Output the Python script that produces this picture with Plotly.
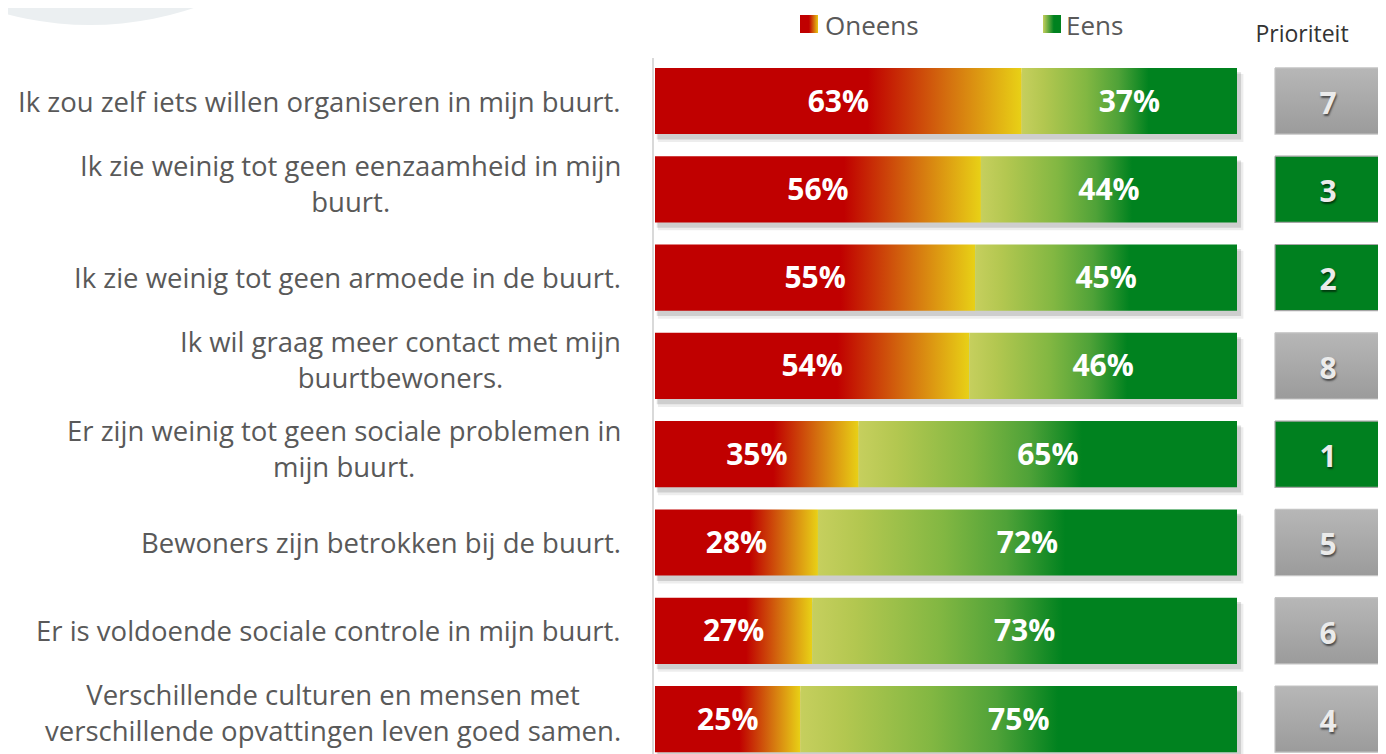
import plotly.graph_objects as go

# data
stellingen = [
    "Ik zou zelf iets willen organiseren in mijn buurt.",
    "Ik zie weinig tot geen eenzaamheid in mijn<br>buurt.",
    "Ik zie weinig tot geen armoede in de buurt.",
    "Ik wil graag meer contact met mijn<br>buurtbewoners.",
    "Er zijn weinig tot geen sociale problemen in<br>mijn buurt.",
    "Bewoners zijn betrokken bij de buurt.",
    "Er is voldoende sociale controle in mijn buurt.",
    "Verschillende culturen en mensen met<br>verschillende opvattingen leven goed samen.",
]
oneens = [63, 56, 55, 54, 35, 28, 27, 25]
eens = [37, 44, 45, 46, 65, 72, 73, 75]
prioriteit = [7, 3, 2, 8, 1, 5, 6, 4]

# pixel helpers (screen pixels; the page body adds an 8px offset)
OFF = 8
X0, XS = 655, 5.82   # px of 0 %, px per %
Y0, YS = 101, 88.3   # px of first row, px per row


def dx(p):
    return (p - X0) / XS


def dy(p):
    return (p - Y0) / YS


BAR_H = 0.375
GRAY = "#595959"
RED_SCALE = [[0, "#c00000"], [0.58, "#c00000"], [0.8, "#d4700f"], [1, "#e8d116"]]
GREEN_SCALE = [[0, "#c6cf5e"], [0.1, "#b3c750"], [0.3, "#82b742"], [0.45, "#4fa238"],
               [0.59, "#00821f"], [1, "#00821f"]]


def rect(fig, x0, x1, y0, y1, **kw):
    fig.add_trace(go.Scatter(
        x=[x0, x1, x1, x0, x0], y=[y0, y0, y1, y1, y0],
        mode="lines", line=dict(width=0), fill="toself",
        hoverinfo="skip", showlegend=False, **kw))


fig = go.Figure()

# bars: shadow, oneens, eens
for i, (o, e) in enumerate(zip(oneens, eens)):
    total = o + e
    rect(fig, 0.5, total + 1.1, i - BAR_H + 0.07, i + BAR_H + 0.09, fillcolor="rgba(0,0,0,0.07)")
    rect(fig, 0.3, total + 0.7, i - BAR_H + 0.05, i + BAR_H + 0.06, fillcolor="rgba(0,0,0,0.13)")
    rect(fig, 0, o, i - BAR_H, i + BAR_H,
         fillgradient=dict(type="horizontal", colorscale=RED_SCALE, start=0, stop=o))
    rect(fig, o, total, i - BAR_H, i + BAR_H,
         fillgradient=dict(type="horizontal", colorscale=GREEN_SCALE, start=o, stop=total))

# percentage labels
fig.add_trace(go.Scatter(
    x=[o / 2 for o in oneens] + [o + e / 2 for o, e in zip(oneens, eens)],
    y=[i + 0.035 for i in range(len(oneens))] * 2,
    text=[f"{v}%" for v in oneens + eens],
    mode="text", textposition="middle center",
    textfont=dict(family="Open Sans", size=30, color="white", weight="bold"),
    hoverinfo="skip", showlegend=False))

# priority boxes
bx0, bx1, bxe = dx(1275), dx(1378), dx(1392)
for i, p in enumerate(prioriteit):
    top, bot = i - BAR_H, i + BAR_H
    xs = [bx0, bx1, bxe, bxe, bx0, bx0]
    ys = [top, top, top + 0.12, bot, bot, top]
    if p <= 3:
        style = dict(fillcolor="#00801f", line=dict(width=1.2, color="#a6a6a6"))
    else:
        style = dict(fillgradient=dict(type="vertical", colorscale=[[0, "#b7b7b7"], [1, "#9b9b9b"]],
                                       start=top, stop=bot),
                     line=dict(width=1.2, color="#c4c4c4"))
    fig.add_trace(go.Scatter(x=xs, y=ys, mode="lines", fill="toself",
                             hoverinfo="skip", showlegend=False, **style))

fig.add_trace(go.Scatter(
    x=[dx(1328)] * len(prioriteit), y=[i + 0.06 for i in range(len(prioriteit))],
    text=[str(p) for p in prioriteit], mode="text",
    textfont=dict(family="Open Sans", size=30, color="#ebebeb", weight="bold",
                  shadow="1px 2px 2px rgba(0,0,0,0.55)"),
    hoverinfo="skip", showlegend=False))

# legend swatches and texts
rect(fig, dx(800), dx(818), dy(15), dy(33),
     fillgradient=dict(type="horizontal", colorscale=[[0, "#c00000"], [0.5, "#c00000"], [1, "#e8c814"]],
                       start=dx(800), stop=dx(818)))
rect(fig, dx(1043), dx(1061), dy(15), dy(33),
     fillgradient=dict(type="horizontal", colorscale=[[0, "#c6cf5e"], [0.6, "#00821f"], [1, "#00821f"]],
                       start=dx(1043), stop=dx(1061)))
fig.add_trace(go.Scatter(
    x=[dx(825), dx(1066)], y=[dy(28), dy(28)], text=["Oneens", "Eens"],
    mode="text", textposition="middle right", cliponaxis=False,
    textfont=dict(family="Open Sans", size=26, color=GRAY),
    hoverinfo="skip", showlegend=False))
fig.add_trace(go.Scatter(
    x=[dx(1302)], y=[dy(36)], text=["Prioriteit"],
    mode="text", textposition="middle center", cliponaxis=False,
    textfont=dict(family="Open Sans", size=23, color="#333333"),
    hoverinfo="skip", showlegend=False))

annotations = []
for i, s in enumerate(stellingen):
    annotations.append(dict(x=dx(623), y=i - 0.07 if "<br>" in s else i, text=s,
                            xanchor="right", align="center", xref="x", yref="y", showarrow=False,
                            font=dict(family="Open Sans", size=27.5, color=GRAY)))

fig.update_layout(
    width=1386, height=754,
    margin=dict(l=0, r=0, t=0, b=0),
    paper_bgcolor="white", plot_bgcolor="white",
    xaxis=dict(range=[dx(OFF), dx(1386 + OFF)], visible=False, fixedrange=True),
    yaxis=dict(range=[dy(754 + OFF), dy(OFF)], visible=False, fixedrange=True),
    annotations=annotations,
    shapes=[
        dict(type="circle", xref="x", yref="y",
             x0=dx(-235), x1=dx(415), y0=dy(25), y1=dy(-625),
             fillcolor="#ebeff1", line=dict(width=0), layer="below"),
        dict(type="line", xref="x", yref="y", x0=dx(653), x1=dx(653), y0=dy(58), y1=dy(754 + OFF),
             line=dict(color="#d9d9d9", width=2)),
    ],
    showlegend=False,
)

fig.write_html("out.html")
